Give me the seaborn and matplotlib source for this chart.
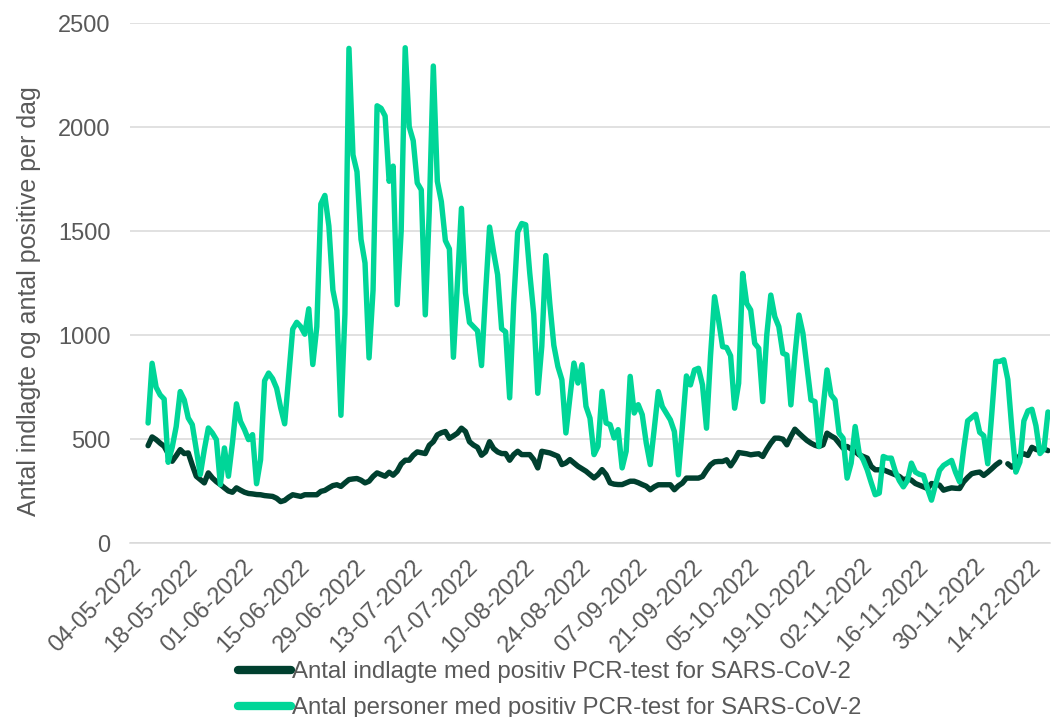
import numpy as np
import pandas as pd
import matplotlib
matplotlib.use('Agg')
import matplotlib.pyplot as plt
import matplotlib.dates as mdates
import seaborn as sns

# ─── Data (one value per day, 08-05-2022 .. 18-12-2022) ───────────────────────
start_date = "2022-05-08"

positive = [
    577, 864, 749, 712, 692, 388, 460,
    560, 728, 688, 601, 569, 450, 329,
    449, 553, 529, 497, 281, 457, 321,
    481, 669, 585, 545, 497, 521, 285,
    400, 780, 817, 790, 744, 650, 573,
    800, 1028, 1061, 1040, 1004, 1126, 858,
    1040, 1630, 1671, 1524, 1216, 1118, 614,
    1100, 2378, 1866, 1785, 1460, 1346, 890,
    1216, 2102, 2090, 2053, 1739, 1812, 1146,
    1500, 2381, 2001, 1934, 1731, 1698, 1097,
    1600, 2293, 1739, 1641, 1454, 1414, 893,
    1250, 1609, 1202, 1060, 1040, 1020, 853,
    1200, 1519, 1398, 1290, 1030, 1015, 698,
    1150, 1495, 1536, 1530, 1298, 1100, 720,
    946, 1382, 1150, 950, 849, 785, 529,
    700, 865, 769, 857, 657, 600, 425,
    465, 729, 577, 569, 505, 545, 361,
    441, 801, 625, 665, 617, 481, 377,
    550, 728, 656, 624, 592, 536, 328,
    560, 803, 760, 832, 840, 760, 552,
    900, 1184, 1072, 944, 940, 900, 648,
    768, 1296, 1152, 1120, 960, 936, 680,
    1000, 1192, 1088, 1040, 912, 904, 664,
    900, 1096, 1008, 850, 688, 680, 464,
    650, 832, 712, 688, 528, 504, 312,
    384, 560, 432, 400, 352, 290, 232,
    240, 416, 408, 408, 344, 300, 270,
    300, 384, 341, 330, 325, 262, 206,
    280, 349, 373, 385, 397, 340, 294,
    450, 587, 603, 619, 532, 516, 381,
    620, 873, 873, 881, 786, 550, 341,
    389, 587, 635, 643, 564, 430, 452,
    630,
]

admitted = [
    468, 510, 497, 480, 465, 430, 393,
    420, 449, 430, 433, 375, 321, 305,
    289, 337, 313, 295, 281, 265, 250,
    244, 265, 254, 244, 238, 236, 233,
    232, 228, 226, 224, 215, 199, 205,
    220, 232, 228, 224, 232, 232, 232,
    232, 248, 253, 265, 276, 280, 272,
    289, 305, 308, 310, 302, 289, 297,
    320, 337, 329, 321, 340, 326, 345,
    380, 398, 398, 422, 438, 434, 430,
    470, 487, 520, 530, 536, 503, 515,
    528, 552, 536, 487, 471, 460, 422,
    438, 487, 454, 438, 430, 430, 398,
    425, 441, 425, 425, 425, 401, 361,
    441, 437, 433, 425, 417, 377, 385,
    401, 385, 369, 357, 345, 329, 313,
    329, 353, 329, 289, 283, 281, 281,
    289, 297, 297, 290, 281, 273, 256,
    270, 280, 280, 280, 280, 256, 275,
    288, 312, 312, 312, 312, 320, 350,
    376, 390, 392, 392, 400, 371, 400,
    435, 432, 429, 424, 427, 429, 416,
    450, 480, 504, 504, 499, 472, 512,
    547, 528, 510, 493, 480, 470, 464,
    472, 528, 515, 504, 480, 456, 464,
    452, 440, 424, 416, 408, 368, 352,
    352, 352, 344, 336, 328, 320, 304,
    310, 302, 286, 278, 270, 262, 286,
    282, 278, 254, 260, 265, 263, 262,
    294, 315, 333, 338, 341, 325, 340,
    357, 375, 389, np.nan, 381, 365, 381,
    421, 429, 421, 460, 450, 444, 452,
    444,
]

label_admitted = "Antal indlagte med positiv PCR-test for SARS-CoV-2"
label_positive = "Antal personer med positiv PCR-test for SARS-CoV-2"
y_label = "Antal indlagte og antal positive per dag"

DARK = "#00402f"
GREEN = "#00d698"
GRID = "#d9d9d9"
TEXT = "#595959"

# ─── Frame ────────────────────────────────────────────────────────────────────
dates = pd.date_range(start_date, periods=len(positive), freq="D") + pd.Timedelta(hours=12)
df = pd.DataFrame({"date": dates, "positive": positive, "admitted": admitted})
# split the admitted line where a day is missing so the gap stays visible
df["segment"] = df["admitted"].isna().cumsum()
adm = df.dropna(subset=["admitted"])

# ─── Plot ─────────────────────────────────────────────────────────────────────
sns.set_style("white")
plt.rcParams["font.family"] = ["Liberation Sans", "DejaVu Sans"]

fig = plt.figure(figsize=(10.51, 7.17), dpi=100)
ax = fig.add_axes([130 / 1051, 1 - 543 / 717, 920 / 1051, 520 / 717])

sns.lineplot(data=adm, x="date", y="admitted", units="segment", estimator=None,
             color=DARK, linewidth=3.9, ax=ax, solid_capstyle="round")
sns.lineplot(data=df, x="date", y="positive", color=GREEN, linewidth=3.9, ax=ax,
             solid_capstyle="round")

ax.set_ylim(0, 2500)
ax.set_yticks(range(0, 2501, 500))
ax.set_xlim(pd.Timestamp("2022-05-04"), pd.Timestamp("2022-12-19"))
ax.set_xticks(pd.date_range("2022-05-04", "2022-12-14", freq="14D"))
ax.xaxis.set_major_formatter(mdates.DateFormatter("%d-%m-%Y"))

ax.grid(axis="y", color=GRID, linewidth=1.1)
ax.set_axisbelow(True)
for side in ["left", "right", "top"]:
    ax.spines[side].set_visible(False)
ax.spines["bottom"].set_color(GRID)
ax.spines["bottom"].set_linewidth(1.1)

ax.tick_params(axis="y", length=0, pad=14, labelsize=17, labelcolor=TEXT)
ax.tick_params(axis="x", direction="out", length=5, width=1.1, color=GRID,
               pad=4, labelsize=17, labelcolor=TEXT)
plt.setp(ax.get_xticklabels(), rotation=45, ha="right", rotation_mode="anchor")

ax.set_xlabel("")
ax.set_ylabel(y_label, fontsize=18, color=TEXT)
ax.yaxis.set_label_coords(-0.097, 0.465)

handles = [
    plt.Line2D([], [], color=DARK, linewidth=6, solid_capstyle="round"),
    plt.Line2D([], [], color=GREEN, linewidth=6, solid_capstyle="round"),
]
fig.legend(handles, [label_admitted, label_positive], loc="center",
           bbox_to_anchor=(550 / 1051, 1 - 690 / 717), frameon=False,
           fontsize=17.3, labelcolor=TEXT, handlelength=2.2, handletextpad=0.05,
           labelspacing=0.58, borderpad=0)

fig.savefig("out.png", dpi=100)
plt.close(fig)
